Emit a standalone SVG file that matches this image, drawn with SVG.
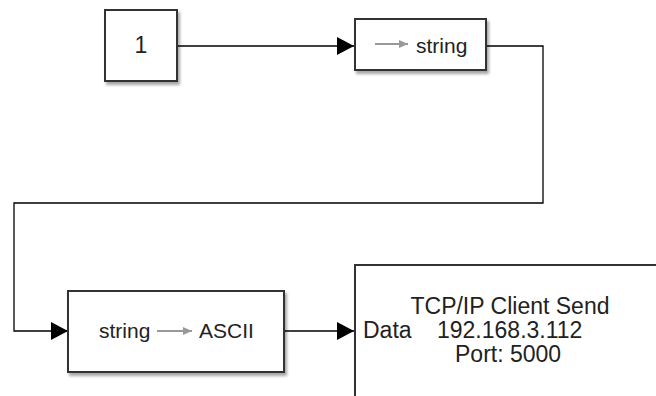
<svg xmlns="http://www.w3.org/2000/svg" width="656" height="396" viewBox="0 0 656 396">
<defs>
<filter id="sh" x="-10%" y="-10%" width="130%" height="130%">
<feDropShadow dx="2" dy="3" stdDeviation="1.5" flood-color="#000" flood-opacity="0.35"/>
</filter>
<marker id="ah" markerUnits="userSpaceOnUse" markerWidth="18" markerHeight="18" refX="17" refY="9" orient="auto">
<path d="M0,0 L17,9 L0,18 Z" fill="#000"/>
</marker>
<marker id="gah" markerUnits="userSpaceOnUse" markerWidth="10" markerHeight="10" refX="9" refY="4" orient="auto">
<path d="M0,0 L9,4 L0,8 Z" fill="#999"/>
</marker>
<style>
.blk{fill:#fff;stroke:#333;stroke-width:2;filter:url(#sh)}
.t{font-family:"Liberation Sans",Arial,Helvetica,sans-serif;fill:#222}
.s{font-size:21px}
.b{font-size:23px}
.con{fill:none;stroke:#000;stroke-width:1.3}
.ga{stroke:#999;stroke-width:2;marker-end:url(#gah)}
</style>
</defs>
<rect width="656" height="396" fill="#fff"/>
<g id="connectors">
<path class="con" d="M177,46 H354" marker-end="url(#ah)"/>
<path class="con" d="M487,46 H543 V203 H14 V331 H68" marker-end="url(#ah)"/>
<path class="con" d="M284,331 H354" marker-end="url(#ah)"/>
</g>
<g id="constant">
<rect class="blk" x="105" y="10" width="72" height="71"/>
<text class="t b" x="141" y="53" text-anchor="middle">1</text>
</g>
<g id="tostring">
<rect class="blk" x="355" y="19" width="131" height="51"/>
<line class="ga" x1="375" y1="44" x2="408" y2="44"/>
<text class="t s" x="416" y="53">string</text>
</g>
<g id="toascii">
<rect class="blk" x="68" y="291" width="216" height="81"/>
<text class="t s" x="99" y="338">string</text>
<line class="ga" x1="157" y1="331" x2="192" y2="331"/>
<text class="t s" x="199" y="338">ASCII</text>
</g>
<g id="tcpsend">
<rect class="blk" x="355" y="265" width="330" height="160"/>
<text class="t b" x="510" y="314" text-anchor="middle">TCP/IP Client Send</text>
<text class="t b" x="363" y="338">Data</text>
<text class="t b" x="437" y="338">192.168.3.112</text>
<text class="t b" x="455" y="362">Port: 5000</text>
</g>
</svg>
